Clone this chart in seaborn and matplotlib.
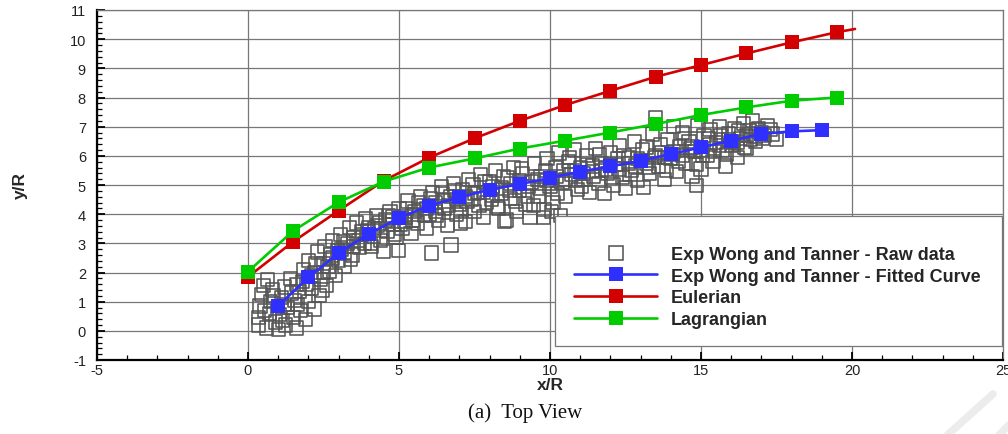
import matplotlib
matplotlib.use("Agg")
import matplotlib.pyplot as plt
from matplotlib.lines import Line2D
from matplotlib.patches import Rectangle
from matplotlib.ticker import MultipleLocator
import pandas as pd
import seaborn as sns

# Raw experimental jet trajectory samples (x/R, y/R)
raw_x = [0.35, 0.4, 0.45, 0.5, 0.35, 0.6, 0.7, 0.75, 0.8, 0.65, 0.9, 1.0, 1.05, 1.1, 1.2, 1.25, 1.3, 1.4,
         1.5, 1.55, 1.6, 1.7, 1.75, 1.8, 1.85, 1.9, 2.0, 2.0, 2.1, 2.2, 2.2, 2.3, 2.35, 2.4, 2.5, 2.55,
         2.6, 2.7, 2.75, 2.8, 2.9, 3.0, 3.05, 3.1, 3.2, 3.3, 3.35, 3.45, 3.5, 3.6, 3.7, 3.75, 3.85, 3.9,
         4.0, 4.1, 4.15, 4.25, 4.3, 4.4, 4.5, 4.55, 4.6, 4.7, 4.8, 4.97, 4.9, 5.0, 5.1, 5.2, 5.3, 5.4,
         5.5, 5.6, 5.7, 5.8, 5.9, 6.07, 6.0, 6.1, 6.2, 6.3, 6.4, 6.5, 6.6, 6.72, 6.7, 6.8, 6.9, 7.0,
         7.1, 7.2, 7.3, 7.4, 7.5, 7.6, 7.7, 7.8, 7.9, 8.0, 8.1, 8.2, 8.3, 8.4, 8.5, 8.6, 8.7, 8.8,
         8.9, 9.0, 9.1, 9.2, 9.34, 9.4, 9.5, 9.6, 9.78, 9.7, 9.8, 9.9, 10.0, 10.1, 10.2, 10.3, 10.4, 10.5,
         10.6, 10.7, 10.8, 10.9, 11.0, 11.1, 11.2, 11.3, 11.4, 11.5, 11.6, 11.7, 11.8, 11.9, 12.0, 12.1,
         12.2, 12.3, 12.4, 12.5, 12.6, 12.7, 12.8, 12.9, 13.1, 13.0, 13.2, 13.3, 13.4, 13.5, 13.6, 13.7,
         13.8, 13.9, 14.0, 14.1, 14.2, 14.3, 14.4, 14.5, 14.6, 14.7, 14.85, 14.8, 14.9, 15.0, 15.1, 15.2,
         15.3, 15.4, 15.5, 15.6, 15.7, 15.8, 15.9, 16.0, 16.1, 16.2, 16.3, 16.4, 16.5, 16.6, 16.7, 16.8,
         16.9, 17.1, 17.3, 17.5,
         1.2, 1.6, 2.1, 2.5, 2.8, 3.2, 3.5, 3.8, 4.2, 4.4, 4.8, 5.2, 5.5, 5.9, 6.2, 6.5, 6.9, 7.2,
         7.5, 7.8, 8.1, 8.4, 8.7, 9.0, 9.3, 9.6, 9.9, 10.2, 10.5, 10.8, 11.1, 11.4, 11.7, 12.0, 12.3, 12.6,
         12.9, 13.2, 13.5, 13.8, 14.1, 14.4, 14.7, 15.0, 15.3, 15.6, 15.9, 16.2, 16.5, 16.8, 17.0, 17.2,
         10.05, 10.35, 8.55, 7.05,
         0.55, 0.85, 1.15, 1.45, 1.65, 1.95, 2.25, 2.45, 2.65, 2.95, 3.15, 3.4, 3.65, 3.95, 4.05, 4.35,
         4.65, 4.85, 5.05, 5.25, 5.45, 5.65, 5.85, 6.05, 6.25, 6.45, 6.65, 6.85, 7.05, 7.25, 7.45, 7.65,
         7.85, 8.05, 8.25, 8.45, 8.65, 8.85, 9.05, 9.25, 9.45, 9.65, 9.85, 10.05, 10.25, 10.45, 10.65,
         10.85, 11.05, 11.25, 11.45, 11.65, 11.85, 12.05, 12.25, 12.45, 12.65, 12.85, 13.05, 13.25,
         13.45, 13.65, 13.85, 14.05, 14.25, 14.45, 14.65, 14.85, 15.05, 15.25, 15.45, 15.65, 15.85,
         16.05, 16.25, 16.45, 16.65, 16.85, 17.05, 17.35]
raw_y = [0.45, 0.85, 1.25, 1.55, 0.2, 0.1, 0.6, 1.0, 1.4, 1.75, 0.3, 0.05, 0.55, 1.15, 1.5, 0.2, 0.8, 1.8,
         0.45, 1.05, 0.1, 1.35, 0.7, 1.7, 2.1, 0.4, 1.0, 2.4, 1.45, 0.75, 2.0, 2.7, 1.2, 1.75, 2.3, 2.9,
         1.55, 2.05, 2.6, 3.1, 1.9, 2.4, 3.3, 2.8, 2.2, 3.0, 3.55, 2.6, 3.2, 3.7, 2.85, 3.4, 3.0, 3.85,
         3.55, 2.9, 3.25, 3.95, 3.6, 3.1, 2.71, 3.8, 3.4, 4.1, 3.65, 2.75, 3.2, 4.2, 3.5, 3.9, 4.45, 3.35,
         4.1, 3.7, 4.6, 4.3, 3.5, 2.67, 4.0, 4.75, 4.4, 3.8, 4.95, 4.2, 3.6, 2.94, 4.6, 5.05, 4.0, 4.35,
         4.85, 3.75, 5.2, 4.5, 4.1, 4.75, 5.35, 3.9, 4.4, 5.1, 4.65, 5.5, 4.2, 4.9, 3.75, 5.25, 4.55, 5.6,
         4.1, 4.8, 5.4, 4.35, 3.89, 5.1, 5.75, 4.6, 3.89, 5.3, 4.15, 5.9, 4.95, 4.4, 5.6, 6.1, 5.1, 4.6,
         5.8, 5.35, 6.2, 4.85, 5.6, 5.2, 6.0, 4.75, 5.45, 6.25, 5.05, 5.75, 4.7, 5.4, 6.1, 5.0,
         5.7, 6.35, 5.25, 4.9, 5.95, 5.5, 6.5, 5.15, 4.92, 5.85, 6.3, 5.4, 6.75, 7.3, 5.65, 6.1,
         5.2, 6.55, 5.9, 7.0, 5.45, 6.3, 6.8, 5.75, 6.5, 5.3, 4.98, 6.15, 7.05, 5.55, 6.7, 6.0,
         6.9, 5.8, 6.45, 7.0, 6.2, 5.65, 6.75, 6.35, 6.95, 5.95, 6.6, 7.1, 6.25, 6.85, 7.2, 6.5,
         6.95, 6.7, 6.9, 6.55,
         0.9, 1.6, 1.9, 2.0, 2.5, 2.7, 2.9, 3.3, 3.5, 3.45, 3.9, 3.75, 4.0, 4.2, 4.1, 4.45, 4.5, 4.6,
         4.7, 4.75, 4.95, 4.7, 5.05, 5.15, 4.95, 5.2, 5.15, 5.3, 5.2, 5.5, 5.4, 5.65, 5.5, 5.7, 5.55, 5.75,
         5.9, 5.75, 6.0, 5.95, 6.15, 6.0, 6.3, 6.2, 6.4, 6.35, 6.55, 6.45, 6.7, 6.65, 6.8, 7.05,
         4.1, 3.95, 3.8, 3.7,
         0.7, 1.2, 0.35, 1.3, 0.9, 1.6, 2.3, 1.4, 2.2, 2.75, 3.05, 2.45, 3.1, 3.45, 3.0, 3.7,
         3.95, 3.3, 3.65, 4.2, 3.8, 4.4, 3.95, 4.55, 3.95, 4.7, 4.3, 4.8, 4.1, 4.45, 5.0, 4.3,
         5.1, 4.5, 4.25, 5.3, 4.8, 4.45, 5.55, 4.6, 4.3, 4.9, 5.5, 5.05, 4.7, 5.5, 5.95,
         5.15, 4.95, 5.7, 5.3, 6.05, 5.55, 5.25, 5.9, 6.0, 5.35, 5.65, 6.2, 5.6,
         5.95, 6.4, 5.5, 6.05, 5.8, 6.6, 6.25, 5.7, 6.0, 6.6, 6.15, 6.7, 6.05,
         6.45, 6.85, 6.3, 6.55, 6.9, 6.6, 6.75]

# Fitted experimental curve
fit_x = [1, 2, 3, 4, 5, 6, 7, 8, 9, 10, 11, 12, 13, 14, 15, 16, 17, 18, 19]
fit_y = [0.86, 1.83, 2.67, 3.32, 3.87, 4.29, 4.58, 4.84, 5.03, 5.24, 5.46, 5.64, 5.83, 6.06,
         6.29, 6.52, 6.75, 6.84, 6.88]

# Simulation trajectories
sim_x = [0, 1.5, 3, 4.5, 6, 7.5, 9, 10.5, 12, 13.5, 15, 16.5, 18, 19.5]
euler_y = [1.85, 3.06, 4.12, 5.15, 5.94, 6.6, 7.2, 7.74, 8.23, 8.71, 9.11, 9.51, 9.89, 10.24]
euler_tail_x = [19.5, 20.1]
euler_tail_y = [10.24, 10.35]
lagr_y = [2.03, 3.43, 4.41, 5.12, 5.6, 5.91, 6.25, 6.52, 6.8, 7.09, 7.4, 7.66, 7.89, 8.0]

labels = ["Exp Wong and Tanner - Raw data", "Exp Wong and Tanner - Fitted Curve",
          "Eulerian", "Lagrangian"]

RAW_C = "#555555"
BLUE = "#2f2fff"
RED = "#d20000"
GREEN = "#00cc00"

sns.set_theme(style="white")
plt.rcParams["font.family"] = ["Liberation Sans", "DejaVu Sans"]
plt.rcParams["axes.unicode_minus"] = False

fig = plt.figure(figsize=(10.08, 4.35), dpi=100)
ax = fig.add_axes([97 / 1008, 1 - 361 / 435, 906 / 1008, 350 / 435])

raw = pd.DataFrame({"x": raw_x, "y": raw_y})
sns.scatterplot(data=raw, x="x", y="y", ax=ax, marker="s", s=90, facecolors="none",
                edgecolors=RAW_C, linewidth=1.15, zorder=3, legend=False)

line_kw = dict(lw=1.9, marker="s", markersize=10, markeredgewidth=0, sort=False,
               estimator=None, legend=False)
sns.lineplot(x=fit_x, y=fit_y, ax=ax, color=BLUE, zorder=4, **line_kw)
sns.lineplot(x=euler_tail_x, y=euler_tail_y, ax=ax, color=RED, lw=1.9, sort=False,
             estimator=None, legend=False, zorder=5)
sns.lineplot(x=sim_x, y=euler_y, ax=ax, color=RED, zorder=5, **line_kw)
sns.lineplot(x=sim_x, y=lagr_y, ax=ax, color=GREEN, zorder=6, **line_kw)

ax.set_xlim(-5, 25)
ax.set_ylim(-1, 11)
ax.xaxis.set_major_locator(MultipleLocator(5))
ax.xaxis.set_minor_locator(MultipleLocator(1))
ax.yaxis.set_major_locator(MultipleLocator(1))
ax.yaxis.set_minor_locator(MultipleLocator(0.2))
ax.grid(True, which="major", color="#777777", lw=0.9)
ax.set_axisbelow(True)

for side in ("left", "bottom"):
    ax.spines[side].set_color("black")
    ax.spines[side].set_linewidth(1.6)
for side in ("top", "right"):
    ax.spines[side].set_color("#777777")
    ax.spines[side].set_linewidth(0.9)

ax.tick_params(which="major", direction="in", length=6, width=1.3, color="black",
               labelsize=10.5, labelcolor="#222222", left=True, bottom=True)
ax.tick_params(which="minor", direction="in", length=3.5, width=0.9, color="black",
               left=True, bottom=True)
ax.tick_params(axis="y", pad=8)
ax.tick_params(axis="x", pad=2)

ax.set_xlabel("x/R", fontsize=12.5, fontweight="bold", labelpad=0)
ax.set_ylabel("y/R", fontsize=12.5, fontweight="bold", labelpad=30)

# Legend box with its own frame
ax.add_patch(Rectangle((458 / 906, 14 / 350), 447 / 906, 130 / 350, transform=ax.transAxes,
                       facecolor="white", edgecolor="#777777", lw=0.9, zorder=8))
handles = [
    Line2D([], [], ls="none", marker="s", mfc="none", mec=RAW_C, mew=1.15, ms=9.5),
    Line2D([], [], color=BLUE, lw=1.9, marker="s", ms=10, mew=0),
    Line2D([], [], color=RED, lw=1.9, marker="s", ms=10, mew=0),
    Line2D([], [], color=GREEN, lw=1.9, marker="s", ms=10, mew=0),
]
leg = ax.legend(handles, labels, loc="upper left", bbox_to_anchor=(477 / 906, 114 / 350),
                frameon=False, borderpad=0, borderaxespad=0, handlelength=4.6,
                handletextpad=0.78, labelspacing=0.26, prop={"weight": "bold", "size": 13})
leg.set_zorder(9)

fig.text(525 / 1008, 1 - 413 / 435, "(a)  Top View", ha="center", va="center",
         fontsize=15, family=["Liberation Serif", "DejaVu Serif"], color="#111111")

# Faint diagonal strokes in the lower right corner
fig.add_artist(Line2D([993 / 1008, 943 / 1008], [1 - 395 / 435, 1 - 440 / 435],
                      transform=fig.transFigure, color="#ececec", lw=5.5, zorder=0))
fig.add_artist(Line2D([1010 / 1008, 998 / 1008], [1 - 425 / 435, 1 - 437 / 435],
                      transform=fig.transFigure, color="#ececec", lw=5.5, zorder=0))

fig.savefig("out.png", dpi=100)
